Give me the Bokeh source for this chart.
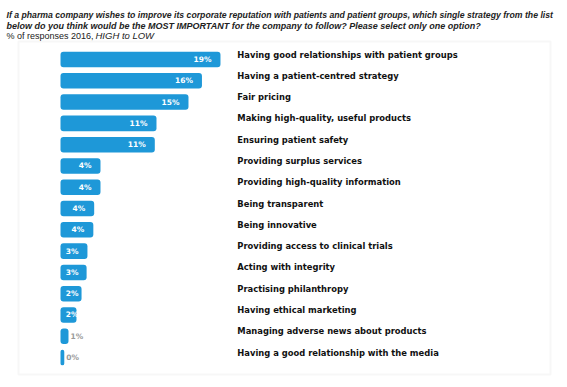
from bokeh.plotting import figure
from bokeh.models import Range1d, Label, BoxAnnotation, ColumnDataSource
from bokeh.core.properties import value
from bokeh.embed import file_html
from bokeh.resources import INLINE

# ---- data -----------------------------------------------------------------
categories = [
    "Having good relationships with patient groups",
    "Having a patient-centred strategy",
    "Fair pricing",
    "Making high-quality, useful products",
    "Ensuring patient safety",
    "Providing surplus services",
    "Providing high-quality information",
    "Being transparent",
    "Being innovative",
    "Providing access to clinical trials",
    "Acting with integrity",
    "Practising philanthropy",
    "Having ethical marketing",
    "Managing adverse news about products",
    "Having a good relationship with the media",
]
# bar lengths (% of responses)
shares = [19.0, 16.8, 15.2, 11.4, 11.2, 4.75, 4.75, 4.0, 3.9, 3.2, 3.1, 2.5, 1.9, 0.95, 0.45]
# value labels as printed on the chart
share_labels = ["19%", "16%", "15%", "11%", "11%", "4%", "4%", "4%", "4%",
                "3%", "3%", "2%", "2%", "1%", "0%"]

title_lines = [
    "If a pharma company wishes to improve its corporate reputation with patients and patient groups, which single strategy from the list",
    "below do you think would be the MOST IMPORTANT for the company to follow? Please select only one option?",
]
subtitle_plain = "% of responses 2016, "
subtitle_italic = "HIGH to LOW"

# ---- layout constants -----------------------------------------------------
W, H = 567, 387
BAR_X0 = 60          # screen px where 0 % sits
PX_PER_PCT = 8.42
ROW0 = 59            # screen y of first row centre
ROW_H = 21.29
LABEL_X = 21.0       # data x where category labels start
BAR_COLOR = "#1e98d8"

p = figure(width=W, height=H, output_backend="svg", toolbar_location=None,
           x_range=Range1d(-BAR_X0 / PX_PER_PCT, (W - BAR_X0) / PX_PER_PCT),
           y_range=Range1d((H - ROW0) / ROW_H, -ROW0 / ROW_H),
           x_axis_location=None, y_axis_location=None,
           min_border=0, outline_line_color=None)
p.grid.visible = False
p.background_fill_color = "white"
p.border_fill_color = "white"

panel = BoxAnnotation(left=18, right=550, top=H - 41, bottom=H - 374,
                      left_units="screen", right_units="screen",
                      top_units="screen", bottom_units="screen",
                      fill_color="white", fill_alpha=1.0,
                      line_color="#e6e6e6", line_width=2, level="underlay")
p.add_layout(panel)

rows = list(range(len(categories)))
inside = [s >= 1.5 for s in shares]
src = ColumnDataSource(dict(
    row=rows, cat=categories, share=shares, lab=share_labels,
    lab_x=[max(s, 3.2) if ins else s for s, ins in zip(shares, inside)],
    lab_off=[-9 if ins else 2 for ins in inside],
    lab_align=["right" if ins else "left" for ins in inside],
    lab_color=["white" if ins else "#9a9a9a" for ins in inside],
    cat_x=[LABEL_X] * len(categories),
))

p.hbar(y="row", left=0, right="share", height=0.73, source=src,
       fill_color=BAR_COLOR, line_color=None, border_radius=3)

p.text(x="lab_x", y="row", text="lab", source=src, x_offset="lab_off",
       text_align="lab_align", text_baseline="middle", text_color="lab_color",
       text_font=value("DejaVu Sans"), text_font_style="bold", text_font_size="7.5px")

p.text(x="cat_x", y="row", text="cat", source=src, y_offset=-5,
       text_align="left", text_baseline="middle", text_color="#111111",
       text_font=value("DejaVu Sans"), text_font_style="bold", text_font_size="8.4px")

# ---- titles ---------------------------------------------------------------
title_y = [14, 25]
title_sizes = ["8.7px", "9px"]
for line, ty, fs in zip(title_lines, title_y, title_sizes):
    p.add_layout(Label(x=6, y=H - ty, x_units="screen", y_units="screen",
                       text=line, text_font="Liberation Sans",
                       text_font_style="bold italic", text_font_size=fs,
                       text_baseline="middle", text_color="#222222"))
p.add_layout(Label(x=6, y=H - 35, x_units="screen", y_units="screen",
                   text=subtitle_plain, text_font="Liberation Sans",
                   text_font_size="9px", text_baseline="middle", text_color="#222222"))
p.add_layout(Label(x=95, y=H - 35, x_units="screen", y_units="screen",
                   text=subtitle_italic, text_font="Liberation Sans",
                   text_font_style="italic", text_font_size="9.5px",
                   text_baseline="middle", text_color="#222222"))

open("out.html", "w").write(file_html(p, INLINE))
